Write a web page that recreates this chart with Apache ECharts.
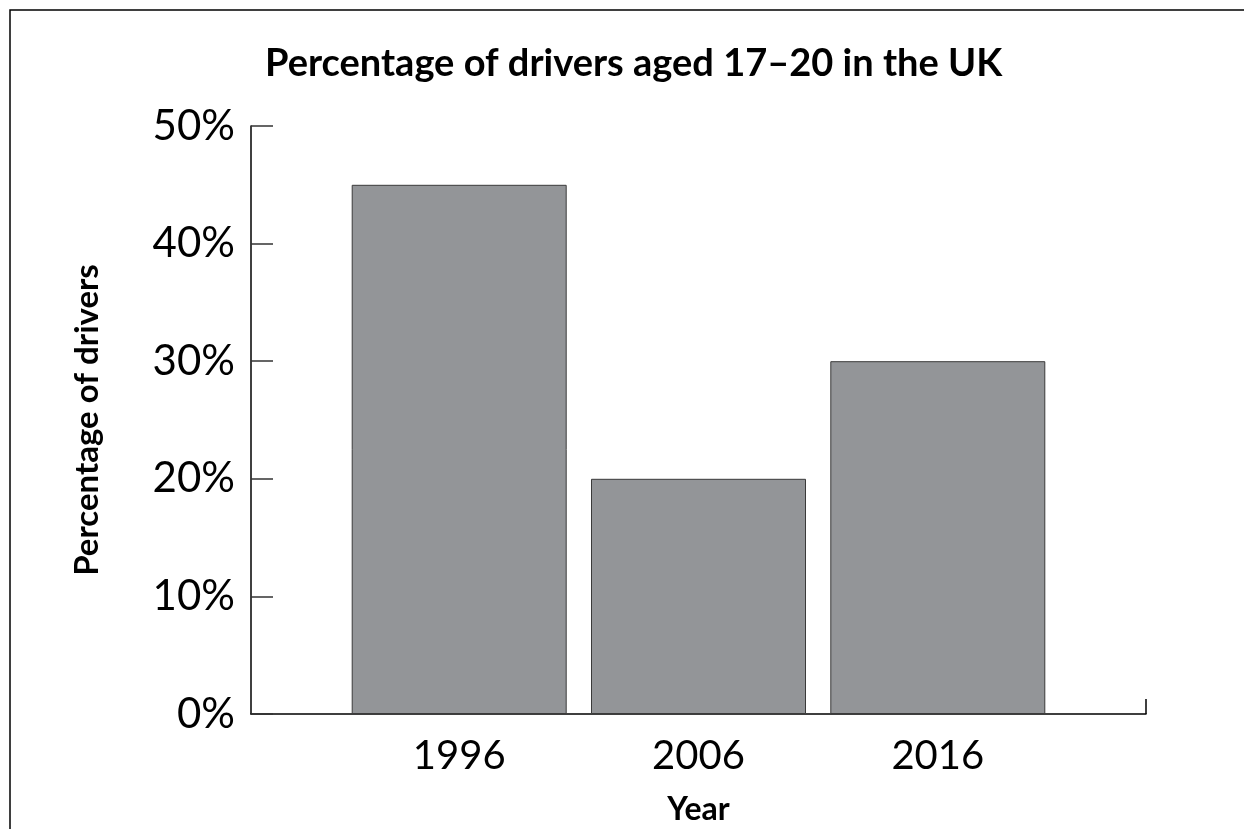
<!DOCTYPE html>
<html>
<head>
<meta charset="utf-8">
<script src="https://cdn.jsdelivr.net/npm/echarts@6/dist/echarts.min.js"></script>
<style>
html,body{margin:0;padding:0;background:#fff;}
#chart{width:1244px;height:829px;}
</style>
</head>
<body>
<div id="chart"></div>
<script>
const titleText = 'Percentage of drivers aged 17–20 in the UK';
const years = [1996, 2006, 2016];
const percentages = [45, 20, 30];
const xMin = 1987.3, xMax = 2024.7;
const yMin = 0, yMax = 50, yStep = 10;

const chart = echarts.init(document.getElementById('chart'), null, {renderer: 'canvas'});
const fontFam = 'Lato, "Open Sans", sans-serif';
chart.setOption({
  animation: false,
  backgroundColor: '#fff',
  title: {
    text: titleText,
    left: 265, top: 45, padding: 0,
    textStyle: {fontFamily: fontFam, fontWeight: 'bold', fontSize: 38, color: '#000'}
  },
  graphic: [{
    type: 'rect', shape: {x: 10, y: 10, width: 1400, height: 1000},
    style: {fill: 'none', stroke: '#000', lineWidth: 1.5}, silent: true
  }],
  grid: {left: 251, top: 126, width: 895, height: 588, containLabel: false, outerBoundsMode: 'none'},
  xAxis: {
    type: 'value', min: xMin, max: xMax,
    name: 'Year', nameLocation: 'middle', nameGap: 80,
    nameTextStyle: {fontFamily: fontFam, fontWeight: 'bold', fontSize: 32, color: '#000'},
    axisLine: {show: true, lineStyle: {color: '#000', width: 1.5}},
    axisTick: {show: true, inside: true, length: 15, customValues: [xMax], lineStyle: {color: '#000', width: 1.5}},
    axisLabel: {customValues: years, formatter: v => String(v), margin: 22,
      fontFamily: fontFam, fontWeight: 'normal', fontSize: 40, color: '#000'},
    splitLine: {show: false}
  },
  yAxis: {
    type: 'value', min: yMin, max: yMax, interval: yStep,
    name: 'Percentage of drivers', nameLocation: 'middle', nameGap: 147,
    nameTextStyle: {fontFamily: fontFam, fontWeight: 'bold', fontSize: 33, color: '#000'},
    axisLine: {show: true, lineStyle: {color: '#000', width: 1.5}},
    axisTick: {show: true, inside: true, length: 22, lineStyle: {color: '#333', width: 1.5}},
    axisLabel: {formatter: v => v + '%', margin: 16,
      fontFamily: fontFam, fontWeight: 'normal', fontSize: 42, color: '#000'},
    splitLine: {show: false}
  },
  series: [{
    type: 'bar',
    data: years.map((y, i) => [y, percentages[i]]),
    barWidth: 215,
    itemStyle: {color: '#939598', borderColor: '#3a3a3a', borderWidth: 1}
  }]
});
</script>
</body>
</html>
